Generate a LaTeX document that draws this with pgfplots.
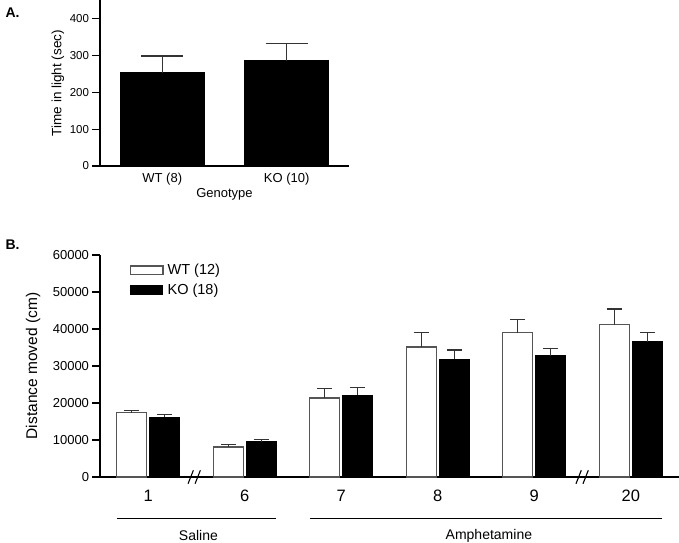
\documentclass[border=0pt]{standalone}
\usepackage{fontspec}
\setmainfont{Liberation Sans}
\usepackage{pgfplots}
\pgfplotsset{compat=1.18}
\usepackage{pgfplotstable}

\pgfplotstableread{
x y err
0 253 45
1 285 46
}\dataA
\pgfplotstableread{
x y err
0 17380 650
1 8110 620
2 21350 2620
3 35140 3860
4 39000 3510
5 41160 4240
}\wt
\pgfplotstableread{
x y err
0 16130 710
1 9460 620
2 22160 1980
3 31890 2430
4 32780 2000
5 36570 2530
}\ko

\definecolor{edge}{HTML}{555555}
\definecolor{errc}{HTML}{333333}

\begin{document}
\begin{tikzpicture}
\useasboundingbox (0,0) rectangle (679bp,543bp);
\pgfplotsset{
 common/.style={
  scale only axis,
  axis x line=bottom, axis y line=left,
  axis line style={-, line width=1.2bp, black},
  tick align=outside,
  major tick length=7.5bp,
  ytick style={line width=1.2bp, black},
  xtick style={draw=none},
  /pgf/number format/assume math mode=true,
  /pgf/number format/set thousands separator={},
  scaled y ticks=false,
  ymin=0,
  clip=false,
 },
 leg/.style={legend image code/.code={\draw[##1] (0bp,-4.3bp) rectangle (32.5bp,4.3bp); \path (35bp,0bp);}},
}
\node[anchor=west, font=\fontsize{14bp}{16bp}\selectfont\bfseries] at (2bp,530bp) {A.};
\node[anchor=west, font=\fontsize{14bp}{16bp}\selectfont\bfseries] at (2bp,298bp) {B.};

\begin{axis}[common, at={(100bp,377bp)}, anchor=south west, width=249bp, height=166bp,
  xmin=-0.5, xmax=1.5, ymax=450, ytick={0,100,200,300,400},
  xtick={0,1}, xticklabels={WT (8), KO (10)},
  yticklabel style={font=\fontsize{11.5bp}{13bp}\selectfont},
  xticklabel style={font=\fontsize{13bp}{15bp}\selectfont, anchor=center, yshift=-6bp},
  ylabel={Time in light (sec)},
  ylabel style={at={(axis description cs:-0.169,0.5)}, anchor=center, font=\fontsize{13.5bp}{15bp}\selectfont},
  xlabel={Genotype},
  xlabel style={at={(axis description cs:0.5,-0.168)}, anchor=center, font=\fontsize{13bp}{15bp}\selectfont},
]
\addplot[ybar, bar width=84bp, bar shift=0bp, fill=black, draw=black, line width=1bp,
  error bars/.cd, y dir=plus, y explicit,
  error bar style={line width=1.2bp, color=errc},
  error mark options={rotate=90, mark size=21bp, line width=1.2bp, color=errc}]
  table[x=x, y=y, y error=err] {\dataA};
\end{axis}

\begin{axis}[common, ybar, at={(100bp,66bp)}, anchor=south west, width=579bp, height=222bp,
  xmin=-0.5, xmax=5.5, ymax=60000, ytick={0,10000,...,60000},
  xtick={0,...,5}, xticklabels={1,6,7,8,9,20},
  yticklabel style={font=\fontsize{13bp}{15bp}\selectfont},
  xticklabel style={font=\fontsize{16.5bp}{18bp}\selectfont, anchor=center, yshift=-11bp},
  ylabel={Distance moved (cm)},
  ylabel style={at={(axis description cs:-0.1157,0.5)}, anchor=center, font=\fontsize{15.5bp}{18bp}\selectfont},
  legend style={at={(axis description cs:0.051,0.965)}, anchor=north west, draw=none, fill=none,
    inner sep=0pt, row sep=4.5bp, font=\fontsize{14.5bp}{17bp}\selectfont,
    nodes={inner sep=1.5bp}},
  legend cell align=left,
]
\addplot[leg, bar width=30bp, bar shift=-16.5bp, fill=white, draw=edge, line width=1.4bp,
  error bars/.cd, y dir=plus, y explicit,
  error bar style={line width=1.2bp, color=errc},
  error mark options={rotate=90, mark size=7.5bp, line width=1.2bp, color=errc}]
  table[x=x, y=y, y error=err] {\wt};
\addplot[leg, bar width=30bp, bar shift=16.5bp, fill=black, draw=black, line width=1bp,
  error bars/.cd, y dir=plus, y explicit,
  error bar style={line width=1.2bp, color=errc},
  error mark options={rotate=90, mark size=7.5bp, line width=1.2bp, color=errc}]
  table[x=x, y=y, y error=err] {\ko};
\legend{WT (12), KO (18)}

\draw[line width=1.1bp] (axis cs:-0.326,-11160) -- (axis cs:1.326,-11160);
\draw[line width=1.1bp] (axis cs:1.679,-11160) -- (axis cs:5.326,-11160);
\node[font=\fontsize{14bp}{16bp}\selectfont] at (axis cs:0.52,-15800) {Saline};
\node[font=\fontsize{14bp}{16bp}\selectfont] at (axis cs:3.53,-15800) {Amphetamine};
\draw[line width=1.1bp] ([xshift=-6.5bp,yshift=-6.7bp]axis cs:0.48,0) -- ++(5.3bp,13.4bp);
\draw[line width=1.1bp] ([xshift=0.5bp,yshift=-6.7bp]axis cs:0.48,0) -- ++(5.3bp,13.4bp);
\draw[line width=1.1bp] ([xshift=-6.5bp,yshift=-6.7bp]axis cs:4.5,0) -- ++(5.3bp,13.4bp);
\draw[line width=1.1bp] ([xshift=0.5bp,yshift=-6.7bp]axis cs:4.5,0) -- ++(5.3bp,13.4bp);
\end{axis}
\end{tikzpicture}
\end{document}
